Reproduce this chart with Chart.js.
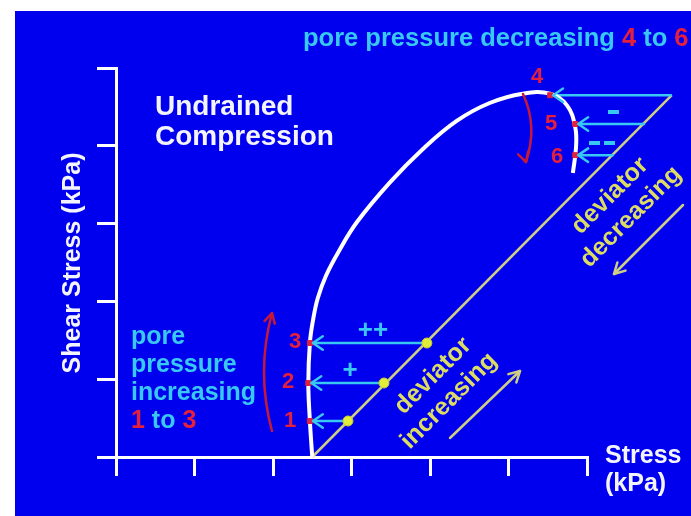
<!DOCTYPE html>
<html lang="en">
<head>
<meta charset="UTF-8">
<title>Undrained Compression</title>
<style>
  html, body { margin: 0; padding: 0; background: #fff; }
  canvas { display: block; }
</style>
</head>
<body>
<canvas id="stressChart" width="691" height="516"></canvas>
<script src="https://cdn.jsdelivr.net/npm/chart.js"></script>
<script>
  // tick positions on both axes (the picture shows no tick labels)
  const xTicks = [0, 1, 2, 3, 4, 5, 6];
  const yTicks = [0, 1, 2, 3, 4, 5];

  // total stress path, the 45 degree line
  const totalX = [2.5, 7.08];
  const totalY = [0, 4.65];

  // stress states 1..6
  const stateLabels = ['1', '2', '3', '4', '5', '6'];
  const stateY = [0.463, 0.951, 1.465, 4.65, 4.28, 3.88];
  const totalPtX = [2.955, 3.414, 3.96, 7.08, 6.74, 6.34];
  const effPtX = [2.47, 2.45, 2.47, 5.53, 5.85, 5.85];

  // effective stress path (white curve)
  const effX = [2.5, 2.47, 2.45, 2.47, 2.51, 2.57, 2.675, 2.83, 3.07, 3.49, 3.91, 4.34, 4.76, 5.18, 5.53, 5.745, 5.85, 5.86, 5.82];
  const effY = [0, 0.46, 0.95, 1.47, 1.76, 2.04, 2.33, 2.63, 3.02, 3.53, 3.96, 4.32, 4.55, 4.67, 4.67, 4.52, 4.24, 3.98, 3.65];

  const BLUE = '#0000ee';
  const CYAN = '#38c8f4';
  const RED = '#e4203c';
  const DARKRED = '#c81838';
  const YELLOW_LINE = '#cfcf84';
  const YELLOW_TXT = '#dcdc64';
  const FONT = '"Liberation Sans", Arial, sans-serif';

  function pts(xs, ys) {
    return xs.map((x, i) => ({ x: x, y: ys[i] }));
  }

  const datasets = [];
  datasets.push({
    data: pts(effPtX, stateY),
    showLine: false,
    pointStyle: 'rect',
    pointRadius: 3.5,
    backgroundColor: RED,
    borderColor: RED,
    order: 1
  });
  datasets.push({
    data: pts(totalPtX, stateY),
    showLine: false,
    pointRadius: 5,
    backgroundColor: '#e2ec3a',
    borderColor: '#c4cc30',
    borderWidth: 1,
    order: 2
  });
  datasets.push({
    data: pts(effX, effY),
    showLine: true,
    tension: 0.4,
    borderColor: '#ffffff',
    borderWidth: 4,
    pointRadius: 0,
    order: 3
  });
  stateY.forEach((y, i) => {
    datasets.push({
      data: [{ x: totalPtX[i], y: y }, { x: effPtX[i], y: y }],
      showLine: true,
      borderColor: CYAN,
      borderWidth: 2.5,
      pointRadius: 0,
      order: 4,
      arrow: true
    });
  });
  datasets.push({
    data: pts(totalX, totalY),
    showLine: true,
    borderColor: YELLOW_LINE,
    borderWidth: 2.5,
    pointRadius: 0,
    order: 5
  });
  datasets.forEach(d => { d.clip = false; });

  function chevron(ctx, x, y, ang, len, spread) {
    ctx.beginPath();
    ctx.moveTo(x + len * Math.cos(ang + spread), y + len * Math.sin(ang + spread));
    ctx.lineTo(x, y);
    ctx.lineTo(x + len * Math.cos(ang - spread), y + len * Math.sin(ang - spread));
    ctx.stroke();
  }

  function drawRuns(ctx, runs, x, y) {
    runs.forEach(r => {
      ctx.fillStyle = r[1];
      ctx.fillText(r[0], x, y);
      x += ctx.measureText(r[0]).width;
    });
  }

  function rotText(ctx, txt, x, y, ang) {
    ctx.save();
    ctx.translate(x, y);
    ctx.rotate(ang);
    ctx.fillText(txt, 0, 0);
    ctx.restore();
  }

  const decor = {
    id: 'decor',
    beforeDraw(chart) {
      const ctx = chart.ctx;
      ctx.save();
      ctx.fillStyle = '#ffffff';
      ctx.fillRect(0, 0, chart.width, chart.height);
      ctx.fillStyle = BLUE;
      ctx.fillRect(15, 11, chart.width - 15, chart.height - 11);
      ctx.restore();
    },
    afterDatasetsDraw(chart) {
      const ctx = chart.ctx;
      ctx.save();
      ctx.lineCap = 'round';
      ctx.lineJoin = 'round';
      // arrowheads on the cyan arrows
      chart.data.datasets.forEach((d, i) => {
        if (!d.arrow) return;
        const m = chart.getDatasetMeta(i).data;
        const a = m[0], b = m[1];
        const ang = Math.atan2(a.y - b.y, a.x - b.x);
        ctx.strokeStyle = CYAN;
        ctx.lineWidth = 2.5;
        chevron(ctx, b.x + 3, b.y, ang, 12, 0.6);
      });
      // red curved arrows
      ctx.strokeStyle = DARKRED;
      ctx.lineWidth = 2.5;
      ctx.beginPath();
      ctx.moveTo(272, 431);
      ctx.quadraticCurveTo(256, 372, 272, 313);
      ctx.stroke();
      chevron(ctx, 272, 313, Math.PI / 2 + 0.25, 11, 0.5);
      ctx.beginPath();
      ctx.moveTo(523, 94);
      ctx.quadraticCurveTo(538, 126, 526, 162);
      ctx.stroke();
      chevron(ctx, 526, 162, -Math.PI / 2 - 0.3, 11, 0.5);
      // yellow direction arrows
      ctx.strokeStyle = YELLOW_LINE;
      ctx.beginPath();
      ctx.moveTo(450, 438);
      ctx.lineTo(520, 371);
      ctx.stroke();
      chevron(ctx, 520, 371, Math.atan2(67, -70), 12, 0.5);
      ctx.beginPath();
      ctx.moveTo(683, 205);
      ctx.lineTo(614, 274);
      ctx.stroke();
      chevron(ctx, 614, 274, Math.atan2(-69, 69), 12, 0.5);
      ctx.restore();
    },
    afterDraw(chart) {
      const ctx = chart.ctx;
      ctx.save();
      ctx.textBaseline = 'alphabetic';
      ctx.textAlign = 'left';

      ctx.font = 'bold 28px ' + FONT;
      ctx.fillStyle = '#f4f4ff';
      ctx.fillText('Undrained', 155, 115);
      ctx.fillText('Compression', 155, 145);

      ctx.font = 'bold 25.5px ' + FONT;
      drawRuns(ctx, [['pore pressure decreasing ', CYAN], ['4', RED], [' to ', CYAN], ['6', RED]], 303, 46);

      ctx.font = 'bold 25px ' + FONT;
      ctx.fillStyle = CYAN;
      ctx.fillText('pore', 131, 344);
      ctx.fillText('pressure', 131, 372);
      ctx.fillText('increasing', 131, 400);
      drawRuns(ctx, [['1', RED], [' to ', CYAN], ['3', RED]], 131, 428);

      ctx.fillStyle = '#f4f4ff';
      ctx.fillText('Stress', 605, 463);
      ctx.fillText('(kPa)', 605, 491);
      ctx.textAlign = 'center';
      rotText(ctx, 'Shear Stress (kPa)', 80, 263, -Math.PI / 2);

      // state numbers
      ctx.font = 'bold 22px ' + FONT;
      ctx.fillStyle = RED;
      const numPos = [[290, 427], [288, 388], [295, 348], [537, 83], [551, 130], [557, 163]];
      stateLabels.forEach((t, i) => ctx.fillText(t, numPos[i][0], numPos[i][1]));

      // pore pressure signs
      ctx.fillStyle = CYAN;
      ctx.font = 'bold 26px ' + FONT;
      ctx.textBaseline = 'middle';
      ctx.fillText('++', 373, 331);
      ctx.fillText('+', 350, 371);
      ctx.fillRect(608, 110, 11, 4);
      ctx.fillRect(589, 141, 11, 4);
      ctx.fillRect(604, 141, 11, 4);

      // deviator labels
      ctx.fillStyle = YELLOW_TXT;
      ctx.font = 'bold 25px ' + FONT;
      rotText(ctx, 'deviator', 433, 376, -Math.PI / 4);
      rotText(ctx, 'increasing', 449, 401, -Math.PI / 4);
      rotText(ctx, 'deviator', 610, 196, -Math.PI / 4);
      rotText(ctx, 'decreasing', 631, 217, -Math.PI / 4);
      ctx.restore();
    }
  };

  const axisGrid = { drawOnChartArea: false, drawTicks: true, tickLength: 19, color: '#ffffff', lineWidth: 3 };
  const axisBorder = { display: true, color: '#ffffff', width: 3 };

  new Chart(document.getElementById('stressChart'), {
    type: 'scatter',
    data: { datasets: datasets },
    options: {
      responsive: false,
      animation: false,
      events: [],
      layout: { padding: { left: 97, right: 104, top: 68, bottom: 40 } },
      plugins: { legend: { display: false }, tooltip: { enabled: false } },
      scales: {
        x: {
          type: 'linear', min: 0, max: 6,
          ticks: { display: false },
          afterBuildTicks: s => { s.ticks = xTicks.map(v => ({ value: v })); },
          grid: axisGrid, border: axisBorder
        },
        y: {
          type: 'linear', min: 0, max: 5,
          ticks: { display: false },
          afterBuildTicks: s => { s.ticks = yTicks.map(v => ({ value: v })); },
          grid: axisGrid, border: axisBorder
        }
      }
    },
    plugins: [decor]
  });
</script>
</body>
</html>
